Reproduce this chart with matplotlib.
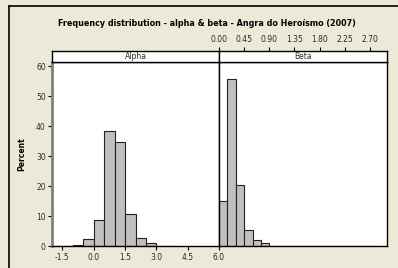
import matplotlib
matplotlib.use("Agg")
import matplotlib.pyplot as plt
from matplotlib.lines import Line2D

# histogram data (percent per bin)
alpha_left = [-2.0, -1.5, -1.0, -0.5, 0.0, 0.5, 1.0, 1.5, 2.0, 2.5, 3.0, 3.5]
alpha_pct = [0.2, 0.0, 0.4, 2.4, 8.9, 38.3, 34.6, 10.8, 2.9, 1.0, 0.2, 0.1]
alpha_width = 0.5

beta_left = [0.0, 0.15, 0.30, 0.45, 0.60, 0.75, 0.90, 1.05, 1.20, 1.35, 1.50,
             1.65, 1.80, 1.95, 2.10, 2.25, 2.40, 2.55, 2.70]
beta_pct = [15.0, 55.6, 20.3, 5.4, 2.1, 1.1, 0.2, 0.2, 0.1, 0.1, 0.1,
            0.1, 0.1, 0.1, 0.1, 0.1, 0.1, 0.1, 0.1]
beta_width = 0.15

alpha_ticks = [-1.5, 0.0, 1.5, 3.0, 4.5, 6.0]
beta_ticks = [0.00, 0.45, 0.90, 1.35, 1.80, 2.25, 2.70]
y_ticks = [0, 10, 20, 30, 40, 50, 60]

W, H = 398, 268
bg = "#ECE9D8"
bar_fc = "#C0C0C0"
txt = "#2a2a2a"
fs = 5.5

fig = plt.figure(figsize=(W / 100, H / 100), dpi=100, facecolor=bg)

def fx(px):
    return px / W

def fy(py):
    return 1 - py / H

# outer frame (left and top only visible)
fig.add_artist(Line2D([fx(9), fx(9)], [fy(6), 0], color="black", lw=1.2))
fig.add_artist(Line2D([fx(9), 1], [fy(6), fy(6)], color="black", lw=1.2))

x0, xm, x1 = 52, 219, 386.5
ytop, ybot = 62, 246.3
strip_top = 50.5

ax_a = fig.add_axes([fx(x0), fy(ybot), fx(xm - x0), fy(ytop) - fy(ybot)])
ax_b = fig.add_axes([fx(xm), fy(ybot), fx(x1 - xm), fy(ytop) - fy(ybot)])

ax_a.bar(alpha_left, alpha_pct, width=alpha_width, align="edge",
         color=bar_fc, edgecolor="#222222", linewidth=0.8)
ax_b.bar(beta_left, beta_pct, width=beta_width, align="edge",
         color=bar_fc, edgecolor="#222222", linewidth=0.8)

for ax in (ax_a, ax_b):
    ax.set_facecolor("white")
    ax.set_ylim(0, 61.4)
    for s in ax.spines.values():
        s.set_color("black")
        s.set_linewidth(1.0)

ax_a.set_xlim(-2.0, 6.0)
ax_b.set_xlim(0.0, 3.0)

ax_a.set_xticks(alpha_ticks)
ax_a.set_xticklabels([f"{v:.1f}" for v in alpha_ticks])
ax_a.set_yticks(y_ticks)
ax_a.tick_params(axis="both", direction="out", length=3, width=0.8,
                 labelsize=fs, labelcolor=txt, pad=1.5)
ax_a.spines["left"].set_color("#808080")
ax_a.spines["left"].set_linewidth(2)
ax_a.set_ylabel("Percent", fontsize=fs, fontweight="bold", labelpad=7)

ax_b.set_xticks([])
ax_b.set_yticks([])

# strip headers
strips = {}
for left, right, label in ((x0, xm, "Alpha"), (xm, x1, "Beta")):
    sax = fig.add_axes([fx(left), fy(ytop), fx(right - left), fy(strip_top) - fy(ytop)])
    sax.set_facecolor("white")
    sax.set_xticks([])
    sax.set_yticks([])
    for s in sax.spines.values():
        s.set_color("black")
        s.set_linewidth(1.0)
    sax.text(0.5, 0.45, label, ha="center", va="center", fontsize=fs,
             color=txt, transform=sax.transAxes)
    strips[label] = sax

# beta scale sits on top of its strip
sb = strips["Beta"]
sb.set_xlim(0.0, 3.0)
sb.xaxis.tick_top()
sb.set_xticks(beta_ticks)
sb.set_xticklabels([f"{v:.2f}" for v in beta_ticks])
sb.tick_params(axis="x", direction="out", length=3, width=0.8,
               labelsize=fs, labelcolor=txt, pad=1.5)

fig.text(fx(207), fy(24), "Frequency distribution - alpha & beta - Angra do Heroísmo (2007)",
         ha="center", va="center", fontsize=5.8, fontweight="bold")

fig.savefig("out.png", dpi=100, facecolor=bg)
